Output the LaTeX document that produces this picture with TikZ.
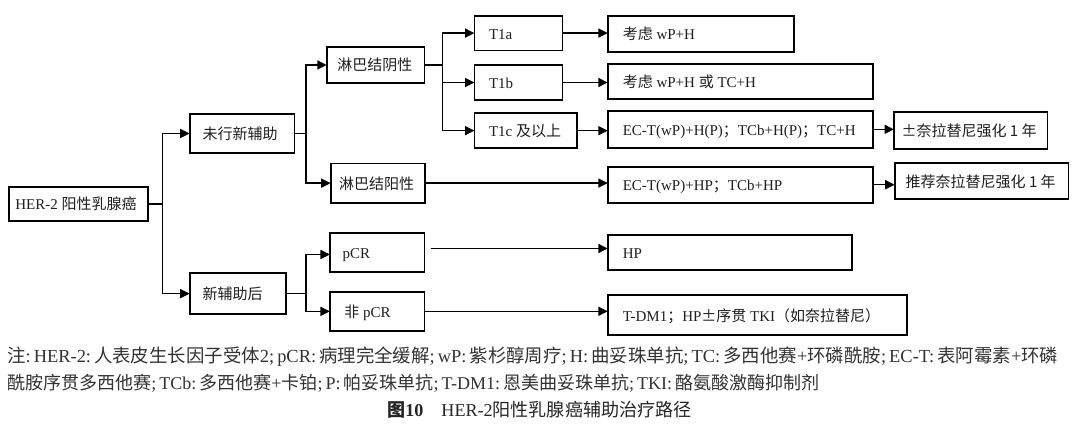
\documentclass[tikz,border=0pt]{standalone}
\usepackage{fontspec}
\usepackage{graphicx}
\setmainfont{Liberation Serif}
\newfontfamily\cjk{Noto Sans CJK SC}
\newcommand{\zh}[1]{{\cjk #1}}
\usetikzlibrary{arrows.meta}
\tikzset{
  box/.style={draw=black, line width=1.7pt, inner sep=0pt, outer sep=0pt,
    text=black!88, font=\fontsize{15}{18}\selectfont, text height=13pt, text depth=1pt},
  conn/.style={draw=black, line width=1.6pt},
  arr/.style={conn, -{Triangle[length=9.5pt,width=9pt]}},
  note/.style={text=black!80, inner sep=0pt, anchor=west, font=\fontsize{17}{20}\selectfont}
}
% \bx{name}{x0}{y0}{x1}{y1}{pad}{text}
\newcommand{\bx}[7]{\node[box, minimum width={#4-#2}, minimum height={#5-#3}] (#1)
  at ({(#2+#4)/2},{(#3+#5)/2}) {\makebox[\dimexpr#4pt-#2pt\relax][l]{\hspace*{#6pt}#7}};}
\begin{document}
\begin{tikzpicture}[x=1pt,y=-1pt]
\useasboundingbox[fill=white] (0,0) rectangle (1080,441);

% boxes
\bx{her}{9.3}{187}{148}{221}{6}{HER-2 \zh{阳性乳腺癌}}
\bx{wx}{189.7}{114}{294.4}{153}{13}{\zh{未行新辅助}}
\bx{xf}{189.7}{273}{285.8}{314.3}{13}{\zh{新辅助后}}
\bx{ny}{326.8}{47}{424.6}{83}{10.5}{\zh{淋巴结阴性}}
\bx{pp}{330.7}{163.5}{425}{202.7}{8.5}{\zh{淋巴结阳性}}
\bx{t1a}{474.5}{15.7}{562.4}{50.5}{14.5}{T1a}
\bx{t1b}{474.5}{65}{562.4}{100}{14.5}{T1b}
\bx{t1c}{474.5}{113.3}{577.2}{148}{14.5}{T1c \zh{及以上}}
\bx{r1}{607.8}{15.7}{793.8}{52.3}{15}{\zh{考虑} wP+H}
\bx{r2}{607.8}{64.3}{873.3}{98.7}{15}{\zh{考虑} wP+H \zh{或} TC+H}
\bx{r3}{607.8}{111}{873.3}{147.7}{15}{EC-T(wP)+H(P)\zh{；}TCb+H(P)\zh{；}TC+H}
\bx{r4}{894}{112.3}{1047.5}{149.3}{7.5}{\zh{±奈拉替尼强化 1 年}}
\bx{r5}{607.8}{166.7}{873.3}{202.7}{15}{EC-T(wP)+HP\zh{；}TCb+HP}
\bx{r6}{894.7}{163.3}{1068.5}{199.3}{11}{\zh{推荐奈拉替尼强化 1 年}}
\bx{pcr}{329.9}{233.3}{424.6}{271.7}{12.7}{pCR}
\bx{npcr}{329.9}{291.7}{424.6}{331}{14.4}{\zh{非} pCR}
\bx{hp}{607.8}{235}{852.3}{270}{15}{HP}
\bx{tdm}{607.8}{295}{907}{335}{15}{T-DM1\zh{；}HP\zh{±序贯} TKI\zh{（如奈拉替尼）}}

% junction columns
\coordinate (c1) at (162.5,0);
\coordinate (c2) at (306,0);
\coordinate (c3) at (442.3,0);

% connectors
\draw[conn] (her.east) -- (her.east -| c1) coordinate (j1);
\draw[arr] (j1) |- (wx.west);
\draw[arr] (j1) |- (xf.west);

\draw[conn] (wx.east) -- (wx.east -| c2) coordinate (j2);
\draw[arr] (j2) |- (ny.west);
\draw[arr] (j2) |- (pp.west);

\draw[conn] (ny.east) -- (ny.east -| c3) coordinate (j3);
\draw[arr] (j3) |- (t1a.west);
\draw[arr] (j3) |- (t1b.west);
\draw[arr] (j3) |- (t1c.west);

\draw[conn] (xf.east) -- (xf.east -| c2) coordinate (j4);
\draw[arr] (j4) |- ([yshift=-2pt]pcr.west);
\draw[arr] (j4) |- (npcr.west);

\draw[arr] (t1a.east) -- (t1a.east -| r1.west);
\draw[arr] (t1b.east) -- (t1b.east -| r2.west);
\draw[arr] (t1c.east) -- (t1c.east -| r3.west);
\draw[arr] (r3.east) -- (r3.east -| r4.west);
\draw[arr] (pp.east) -- (pp.east -| r5.west);
\draw[arr] (r5.east) -- (r5.east -| r6.west);
\draw[arr] ([xshift=6pt,yshift=4pt]pcr.east) -- ([yshift=4pt]pcr.east -| hp.west);
\draw[arr] (npcr.east) -- (npcr.east -| tdm.west);

% notes
\node[note] (n1) at (7,357) {\resizebox{1051pt}{!}{\zh{注}:\,HER-2:\,\zh{人表皮生长因子受体}2;\,pCR:\,\zh{病理完全缓解};\,wP:\,\zh{紫杉醇周疗};\,H:\,\zh{曲妥珠单抗};\,TC:\,\zh{多西他赛}+\zh{环磷酰胺};\,EC-T:\,\zh{表阿霉素}+\zh{环磷}}};
\node[note] (n2) at (7,383) {\resizebox{812pt}{!}{\zh{酰胺序贯多西他赛};\,TCb:\,\zh{多西他赛}+\zh{卡铂};\,P:\,\zh{帕妥珠单抗};\,T-DM1:\,\zh{恩美曲妥珠单抗};\,TKI:\,\zh{酪氨酸激酶抑制剂}}};
\node[note, font=\fontsize{16.5}{20}\selectfont, text=black!85] (cap) at (387,410) {\resizebox{304.5pt}{!}{{\cjk\bfseries 图}\textbf{10}\quad HER-2\zh{阳性乳腺癌辅助治疗路径}}};
\end{tikzpicture}
\end{document}
